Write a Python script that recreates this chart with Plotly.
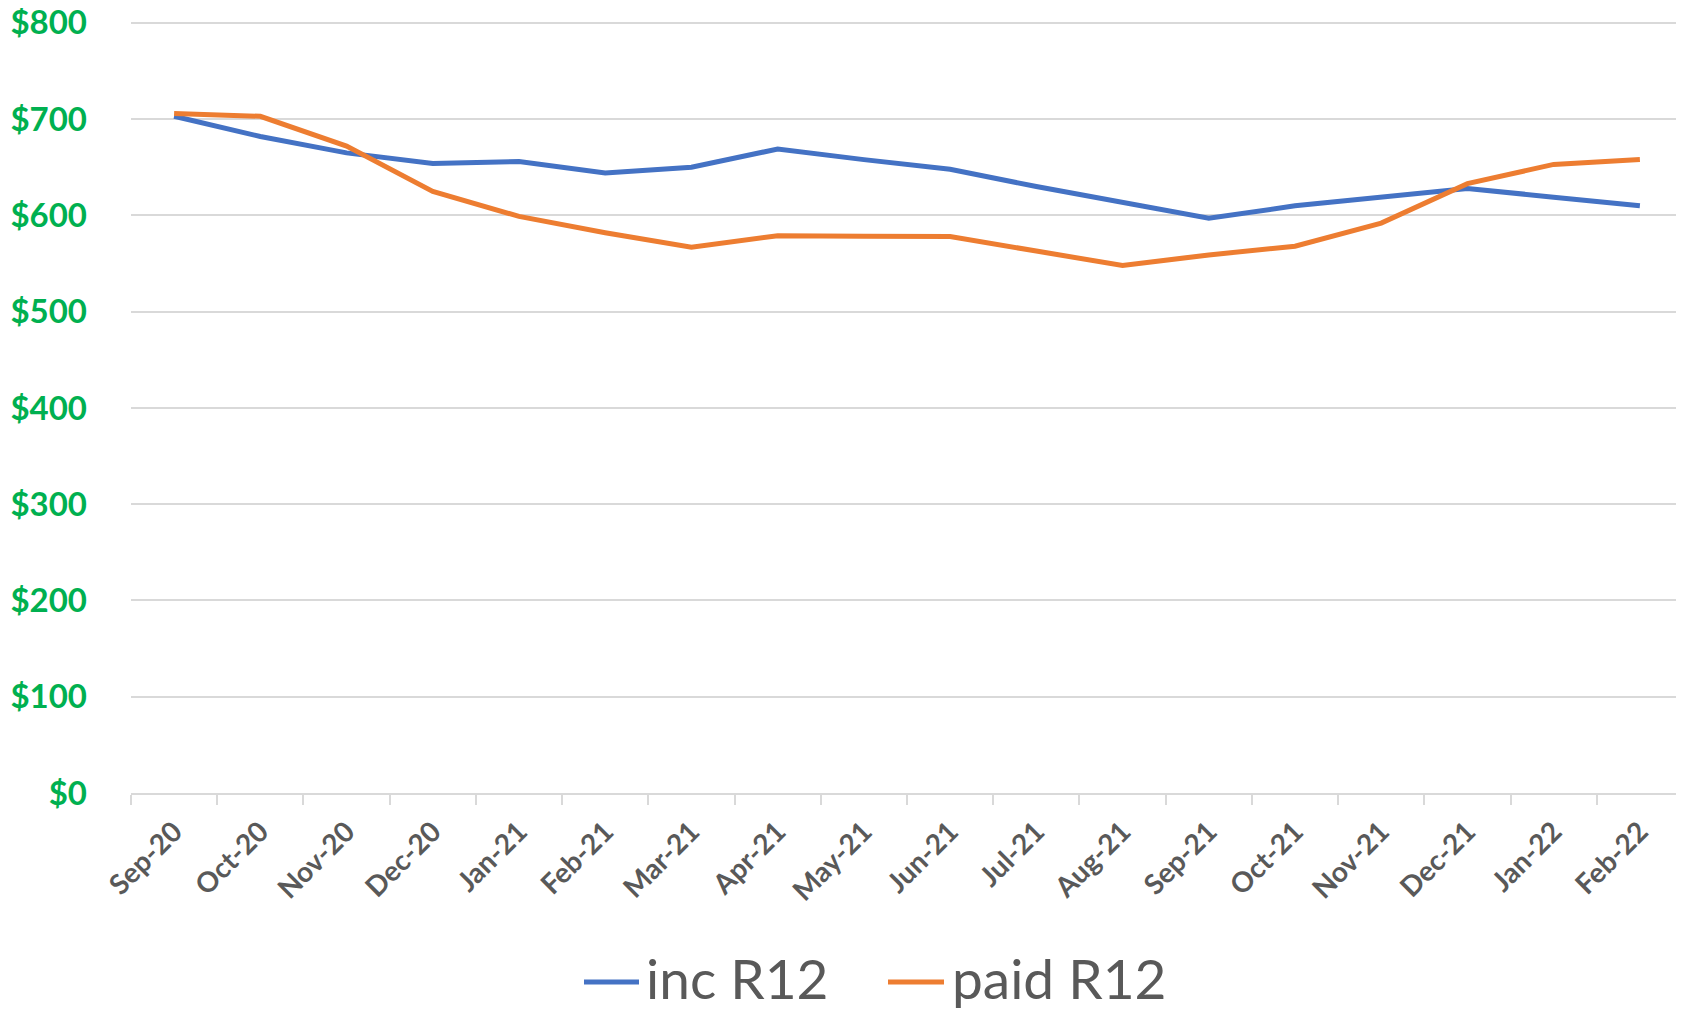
import plotly.graph_objects as go

months = ["Sep-20", "Oct-20", "Nov-20", "Dec-20", "Jan-21", "Feb-21", "Mar-21", "Apr-21", "May-21",
          "Jun-21", "Jul-21", "Aug-21", "Sep-21", "Oct-21", "Nov-21", "Dec-21", "Jan-22", "Feb-22"]
inc_r12 = [703, 682, 665, 654, 656, 644, 650, 669, 658, 648, 630, 613, 597, 610, 619, 628, 619, 610]
paid_r12 = [706, 703, 672, 625, 599, 582, 567, 579, 578.5, 578, 563, 548, 559, 568, 592, 633, 653, 658]
y_ticks = [0, 100, 200, 300, 400, 500, 600, 700, 800]
y_tick_text = ["$0", "$100", "$200", "$300", "$400", "$500", "$600", "$700", "$800"]

series_names = ["inc R12", "paid R12"]
series_colors = ["#4472C4", "#ED7D31"]

FONT = "Lato"
PAGE_OFF = 8  # default body margin of the html page
W, H = 1684 - PAGE_OFF, 1010 - PAGE_OFF
ML, MR, MT, MB = 123, 1, 13, 217
PW = W - ML - MR
PH = H - MT - MB


def px_to_paper_x(page_px):
    return (page_px - PAGE_OFF - ML) / PW


def px_to_paper_y(page_py):
    return (H - MB - (page_py - PAGE_OFF)) / PH


fig = go.Figure()
for name, vals, col in zip(series_names, [inc_r12, paid_r12], series_colors):
    fig.add_trace(go.Scatter(x=months, y=vals, name=name, mode="lines",
                             line=dict(color=col, width=5), showlegend=False))

# Legend (Excel-style long swatches), placed under the chart
legend_items = [(584, 639, 645), (888, 944, 951)]  # swatch start, swatch end, text start (page px)
for (x0, x1, xt), name, col in zip(legend_items, series_names, series_colors):
    fig.add_shape(type="line", xref="paper", yref="paper",
                  x0=px_to_paper_x(x0), x1=px_to_paper_x(x1),
                  y0=px_to_paper_y(982), y1=px_to_paper_y(982),
                  line=dict(color=col, width=5))
    fig.add_annotation(text=name, xref="paper", yref="paper", x=px_to_paper_x(xt),
                       y=px_to_paper_y(978), xanchor="left", yanchor="middle", showarrow=False,
                       font=dict(family=FONT, size=55, color="#595959"), borderpad=0)

fig.update_layout(
    width=W, height=H,
    margin=dict(l=ML, r=MR, t=MT, b=MB),
    paper_bgcolor="white", plot_bgcolor="white",
    font=dict(family=FONT, color="#595959"),
    showlegend=False,
)
fig.update_xaxes(
    type="category", range=[-0.5, len(months) - 0.5], tickangle=-45, tickson="boundaries",
    ticks="outside", ticklen=10, automargin=False,
    tickcolor="#D9D9D9", tickwidth=2, showline=True, linecolor="#D9D9D9", linewidth=2,
    showgrid=False, ticklabelstandoff=9,
    tickfont=dict(family=FONT, size=28, color="#595959", weight="bold"),
)
fig.update_yaxes(
    range=[0, 802], tickvals=y_ticks, ticktext=y_tick_text, showgrid=True, gridcolor="#D9D9D9",
    gridwidth=2, zeroline=False, showline=False, ticks="", ticklabelstandoff=43, automargin=False,
    ticklabeloverflow="allow",
    tickfont=dict(family=FONT, size=33, color="#00B050", weight="bold"),
)

fig.write_html("out.html")
